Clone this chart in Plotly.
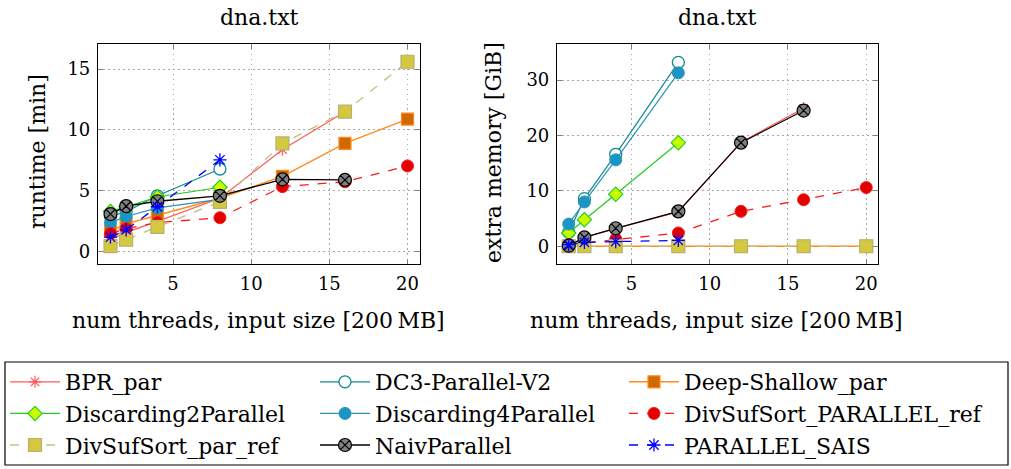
import plotly.graph_objects as go

threads = [1, 2, 4, 8, 12, 16, 20]

# runtime [min]
bpr_rt = [1.0, 1.6, 2.5, 4.4, 8.4, 11.5]
dc3_rt = [2.9, 3.3, 4.6, 6.8]
deep_rt = [1.7, 2.3, 3.0, 4.4, 6.2, 8.9, 10.9]
disc2_rt = [3.3, 3.7, 4.5, 5.3]
disc4_rt = [2.4, 2.9, 3.6, 4.3]
dssp_rt = [1.5, 1.9, 2.4, 2.8, 5.35, 5.75, 7.05]
dsspar_rt = [0.47, 1.0, 2.05, 4.1, 8.9, 11.5, 15.6]
naiv_rt = [3.1, 3.75, 4.15, 4.6, 5.95, 5.9]
sais_rt = [1.2, 1.8, 3.7, 7.55]

# extra memory [GiB]
bpr_mem = [0.1, 1.6, 3.2, 6.2, 18.8, 24.9]
dc3_mem = [2.5, 8.6, 16.6, 33.2]
deep_mem = [0.0, 0.0, 0.0, 0.0, 0.0, 0.0, 0.0]
disc2_mem = [2.4, 4.8, 9.4, 18.7]
disc4_mem = [4.0, 8.0, 15.6, 31.3]
dssp_mem = [0.3, 0.6, 1.3, 2.4, 6.3, 8.4, 10.6]
dsspar_mem = [0.0, 0.0, 0.0, 0.0, 0.0, 0.0, 0.0]
naiv_mem = [0.1, 1.6, 3.25, 6.3, 18.7, 24.5]
sais_mem = [0.3, 0.7, 0.85, 1.05]

names = ["BPR_par", "DC3-Parallel-V2", "Deep-Shallow_par", "Discarding2Parallel",
         "Discarding4Parallel", "DivSufSort_PARALLEL_ref", "DivSufSort_par_ref",
         "NaivParallel", "PARALLEL_SAIS"]
runtimes = [bpr_rt, dc3_rt, deep_rt, disc2_rt, disc4_rt, dssp_rt, dsspar_rt, naiv_rt, sais_rt]
memories = [bpr_mem, dc3_mem, deep_mem, disc2_mem, disc4_mem, dssp_mem, dsspar_mem, naiv_mem, sais_mem]

x_title = "num threads, input size [200\u2009MB]"
plot_title = "dna.txt"
y_titles = ["runtime [min]", "extra memory [GiB]"]

styles = [
    dict(line=dict(color="#ff5a5a", width=1.2), marker=dict(symbol="asterisk-open", size=10, color="#ff5a5a", line=dict(color="#ff5a5a", width=1.2))),
    dict(line=dict(color="#138a8e", width=1.2), marker=dict(symbol="circle", size=12, color="white", line=dict(color="#138a8e", width=1.3))),
    dict(line=dict(color="#ff8c1a", width=1.4), marker=dict(symbol="square", size=12, color="#d06800", line=dict(color="#ff8c1a", width=1.2))),
    dict(line=dict(color="#22cc22", width=1.2), marker=dict(symbol="diamond", size=11, color="#ccff00", line=dict(color="#22cc22", width=1.2))),
    dict(line=dict(color="#2b93b8", width=1.2), marker=dict(symbol="circle", size=12, color="#1a96c6", line=dict(color="#2b93b8", width=1))),
    dict(line=dict(color="#ff1a1a", width=1.3, dash="dash"), marker=dict(symbol="circle", size=12, color="#e00000", line=dict(color="#ff1a1a", width=1))),
    dict(line=dict(color="#c8c080", width=1.4, dash="dash"), marker=dict(symbol="square", size=13, color="#d4c840", line=dict(color="#b8b070", width=1.2))),
    dict(line=dict(color="#000000", width=1.3), marker=dict(symbol="circle-x", size=13, color="#808080", line=dict(color="#000000", width=1.2))),
    dict(line=dict(color="#0000ff", width=1.3, dash="dash"), marker=dict(symbol="asterisk-open", size=11, color="#0000ff", line=dict(color="#0000ff", width=1.3))),
]

legend_ids = ["legend", "legend2", "legend3"]

fig = go.Figure()
for i, nm in enumerate(names):
    st = styles[i]
    rt = runtimes[i]
    fig.add_trace(go.Scatter(x=threads[:len(rt)], y=rt, mode="lines+markers", name=nm,
                             line=st["line"], marker=st["marker"], xaxis="x", yaxis="y",
                             legendgroup=nm, showlegend=True, legend=legend_ids[i % 3]))
for i, nm in enumerate(names):
    st = styles[i]
    mm = memories[i]
    fig.add_trace(go.Scatter(x=threads[:len(mm)], y=mm, mode="lines+markers", name=nm,
                             line=st["line"], marker=st["marker"], xaxis="x2", yaxis="y2",
                             legendgroup=nm, showlegend=False, legend=legend_ids[i % 3]))

FONT = "'DejaVu Serif', 'Liberation Serif', serif"
W, H = 1011, 469
ytop, ybot = 1 - 43.5 / H, 1 - 264 / H
L1, R1 = 98, 420
L2, R2 = 557, 878

axis_common = dict(
    showline=True, linecolor="black", linewidth=1.2, mirror="allticks",
    ticks="inside", ticklen=5, tickcolor="#7f7f7f", tickwidth=1,
    showgrid=True, gridcolor="#a8a8a8", griddash="1.5px,3.5px", gridwidth=1,
    zeroline=False, tickfont=dict(family=FONT, size=18, color="black"),
)

def ann(text, xpx, ypx, size, angle=0):
    return dict(text=text, x=xpx / W, y=1 - ypx / H, xref="paper", yref="paper",
                showarrow=False, font=dict(family=FONT, size=size, color="black"),
                xanchor="center", yanchor="middle", textangle=angle)

def leg(xpx):
    return dict(orientation="v", x=xpx / W, y=1 - 361 / H, xanchor="left", yanchor="top",
                borderwidth=0, bgcolor="rgba(0,0,0,0)", tracegroupgap=0, itemwidth=50,
                font=dict(family=FONT, size=22, color="black"))

fig.update_layout(
    width=W, height=H,
    margin=dict(l=0, r=0, t=0, b=0),
    paper_bgcolor="white", plot_bgcolor="white",
    font=dict(family=FONT, color="black"),
    xaxis=dict(domain=[L1 / W, R1 / W], range=[0.2, 20.8], tickvals=[5, 10, 15, 20],
               anchor="y", ticklabelstandoff=3, **axis_common),
    yaxis=dict(domain=[ybot, ytop], range=[-1.0, 17.1], tickvals=[0, 5, 10, 15],
               anchor="x", ticklabelstandoff=3, **axis_common),
    xaxis2=dict(domain=[L2 / W, R2 / W], range=[0.25, 20.75], tickvals=[5, 10, 15, 20],
                anchor="y2", ticklabelstandoff=3, **axis_common),
    yaxis2=dict(domain=[ybot, ytop], range=[-3.2, 36.6], tickvals=[0, 10, 20, 30],
                anchor="x2", ticklabelstandoff=3, **axis_common),
    annotations=[
        ann(plot_title, (L1 + R1) / 2, 17, 22),
        ann(plot_title, (L2 + R2) / 2, 17, 22),
        ann(x_title, 258, 320, 22),
        ann(x_title, 716, 320, 22),
        ann(y_titles[0], 38, 152, 22, -90),
        ann(y_titles[1], 493, 153, 22, -90),
    ],
    shapes=[dict(type="rect", xref="paper", yref="paper", x0=5 / W, x1=1008 / W,
                 y0=1 - 465 / H, y1=1 - 362 / H, line=dict(color="black", width=1.2),
                 fillcolor="rgba(0,0,0,0)", layer="above")],
    legend=leg(5),
    legend2=leg(315),
    legend3=leg(624),
)

fig.write_html("out.html")
